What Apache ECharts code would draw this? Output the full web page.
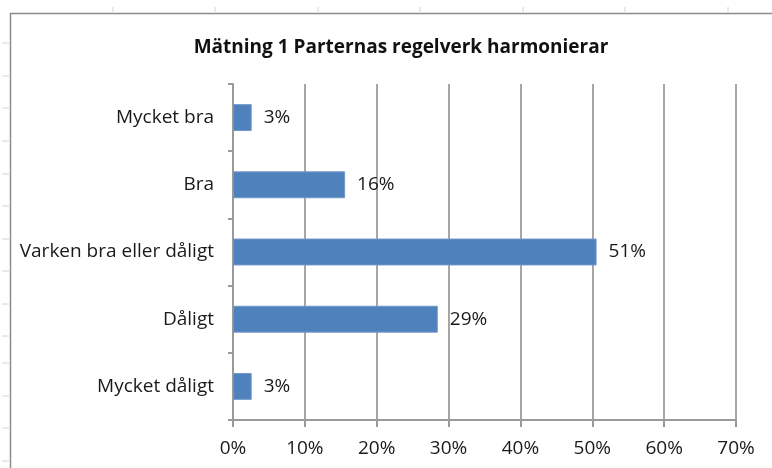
<!DOCTYPE html>
<html>
<head>
<meta charset="utf-8">
<script src="https://cdn.jsdelivr.net/npm/echarts@6/dist/echarts.min.js"></script>
<style>
html,body{margin:0;padding:0;background:#fff;}
#c{width:772px;height:468px;}
</style>
</head>
<body>
<div id="c"></div>
<script>
var title = 'Mätning 1 Parternas regelverk harmonierar';
var categories = ['Mycket bra', 'Bra', 'Varken bra eller dåligt', 'Dåligt', 'Mycket dåligt'];
var values = [2.6, 15.6, 50.6, 28.5, 2.6];
var xTicks = [0, 10, 20, 30, 40, 50, 60, 70];

var font = '"Open Sans", "Noto Sans", sans-serif';
var chart = echarts.init(document.getElementById('c'), null, {renderer: 'canvas'});

// decorative spreadsheet cell tick marks and chart frame
var deco = [];
var ly = [43, 76, 108, 141, 174, 206, 239, 271, 304, 336, 363, 396, 428, 461];
ly.forEach(function (y) {
  deco.push({type: 'line', shape: {x1: 2, y1: y, x2: 9, y2: y}, style: {stroke: '#d4d4d4', lineWidth: 1}});
});
[113, 215, 318, 420, 523, 625, 728].forEach(function (x) {
  deco.push({type: 'line', shape: {x1: x, y1: 7, x2: x, y2: 12}, style: {stroke: '#d4d4d4', lineWidth: 1}});
});
deco.push({type: 'polyline', shape: {points: [[10.5, 468], [10.5, 13.5], [772, 13.5]]}, style: {stroke: '#8c8c8c', lineWidth: 1.5, fill: null}});

chart.setOption({
  backgroundColor: '#ffffff',
  animation: false,
  title: {
    text: title,
    left: 396, top: 33, textAlign: 'center',
    textStyle: {fontFamily: font, fontSize: 19, fontWeight: 'bold', color: '#111'}
  },
  graphic: deco,
  grid: {left: 233, right: 36, top: 84, bottom: 48, containLabel: false},
  xAxis: {
    type: 'value', min: 0, max: 70, interval: 10,
    axisLine: {show: true, lineStyle: {color: '#9a9a9a', width: 2}},
    axisTick: {show: true, length: 7, lineStyle: {color: '#9a9a9a', width: 2}},
    splitLine: {show: true, lineStyle: {color: '#a6a6a6', width: 2}},
    axisLabel: {
      margin: 19, color: '#1a1a1a', fontFamily: font, fontSize: 19,
      formatter: function (v) { return xTicks.indexOf(v) >= 0 ? v + '%' : ''; }
    }
  },
  yAxis: {
    type: 'category', data: categories, inverse: true,
    axisLine: {show: true, lineStyle: {color: '#9a9a9a', width: 2}},
    axisTick: {show: true, length: 5, lineStyle: {color: '#9a9a9a', width: 2}},
    axisLabel: {margin: 19, color: '#1a1a1a', fontFamily: font, fontSize: 19}
  },
  series: [{
    type: 'bar', data: values, barWidth: '40%',
    itemStyle: {color: '#4F81BD', borderColor: '#6f98c9', borderWidth: 1},
    label: {
      show: true, position: 'right', distance: 12,
      color: '#1a1a1a', fontFamily: font, fontSize: 19,
      formatter: function (p) { return Math.round(p.value) + '%'; }
    }
  }]
});
</script>
</body>
</html>
